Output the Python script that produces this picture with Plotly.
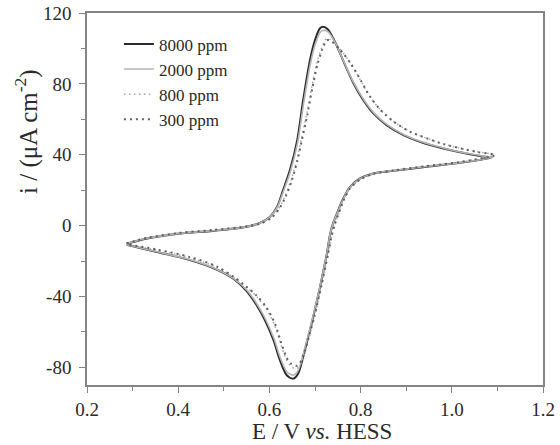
import plotly.graph_objects as go

# ---- data (E in V, i in uA cm^-2), loop: forward then return ----
E_8000 = [0.287, 0.332, 0.404, 0.476, 0.551, 0.579, 0.601, 0.617, 0.630, 0.645, 0.661, 0.674,
          0.689, 0.700, 0.711, 0.718, 0.728, 0.740, 0.755, 0.770, 0.784, 0.806, 0.828, 0.857,
          0.894, 0.930, 0.967, 1.003, 1.040, 1.070, 1.088,
          1.018, 0.945, 0.872, 0.828, 0.799, 0.777, 0.762, 0.748, 0.740, 0.733, 0.726, 0.711,
          0.696, 0.685, 0.674, 0.663, 0.652, 0.638, 0.623, 0.609, 0.590, 0.572, 0.550, 0.521,
          0.484, 0.426, 0.353, 0.287]
i_8000 = [-10.3, -7.3, -4.5, -3.0, -0.7, 1.5, 4.9, 10.6, 20.0, 31.3, 48.2, 70.8,
          93.4, 104.7, 111.4, 112.3, 110.8, 105.7, 97.2, 88.3, 80.5, 70.8, 63.3, 56.7,
          51.1, 47.3, 44.5, 42.2, 40.3, 39.0, 38.4,
          35.4, 33.2, 30.9, 29.4, 26.6, 21.9, 15.3, 6.8, 1.5, -5.0, -15.8, -34.6,
          -51.6, -62.9, -74.2, -83.6, -86.4, -84.5, -76.0, -64.7, -53.4, -45.0, -37.0, -30.0,
          -24.8, -19.5, -14.9, -10.8]

E_2000 = [0.287, 0.332, 0.404, 0.476, 0.551, 0.579, 0.601, 0.617, 0.631, 0.646, 0.662, 0.675,
          0.690, 0.701, 0.712, 0.719, 0.729, 0.741, 0.756, 0.771, 0.785, 0.807, 0.829, 0.858,
          0.894, 0.930, 0.967, 1.003, 1.040, 1.070, 1.090,
          1.018, 0.945, 0.872, 0.828, 0.799, 0.777, 0.762, 0.748, 0.740, 0.733, 0.726, 0.711,
          0.696, 0.685, 0.674, 0.663, 0.653, 0.639, 0.624, 0.610, 0.591, 0.573, 0.551, 0.521,
          0.484, 0.426, 0.353, 0.287]
i_2000 = [-10.2, -7.2, -4.4, -2.9, -0.6, 1.5, 4.8, 10.2, 19.5, 30.5, 47.0, 69.0,
          91.5, 102.8, 109.3, 110.3, 109.3, 104.8, 96.8, 88.0, 80.5, 71.0, 63.6, 57.0,
          51.4, 47.6, 44.8, 42.4, 40.5, 39.2, 38.6,
          35.5, 33.3, 31.0, 29.4, 26.5, 21.7, 15.0, 6.6, 1.4, -5.0, -15.8, -34.3,
          -51.0, -62.0, -72.8, -81.8, -84.4, -82.8, -74.8, -63.8, -52.6, -44.4, -36.6, -29.8,
          -24.6, -19.3, -14.8, -10.8]

E_800 = [0.287, 0.332, 0.404, 0.476, 0.551, 0.580, 0.603, 0.620, 0.635, 0.648, 0.660, 0.670,
         0.682, 0.693, 0.704, 0.715, 0.725, 0.734, 0.755, 0.777, 0.799, 0.820, 0.843, 0.872,
         0.908, 0.945, 0.981, 1.018, 1.054, 1.093,
         1.018, 0.945, 0.872, 0.828, 0.799, 0.777, 0.764, 0.752, 0.744, 0.737, 0.729, 0.714,
         0.699, 0.688, 0.677, 0.667, 0.658, 0.646, 0.636, 0.624, 0.611, 0.592, 0.572, 0.550,
         0.521, 0.484, 0.426, 0.353, 0.287]
i_800 = [-10.1, -7.0, -4.2, -2.6, -0.5, 1.2, 4.3, 9.5, 17.0, 26.0, 37.0, 49.0,
         63.3, 78.4, 91.6, 100.5, 105.5, 105.0, 99.6, 92.0, 82.4, 73.0, 65.5, 58.8,
         53.1, 49.3, 46.1, 43.7, 41.7, 39.9,
         35.8, 33.5, 31.0, 29.2, 26.0, 21.0, 15.0, 6.8, 1.0, -5.5, -16.0, -34.6,
         -51.6, -62.5, -72.5, -79.0, -80.8, -79.2, -75.0, -66.0, -56.0, -46.5, -40.0, -35.0,
         -29.2, -23.5, -18.2, -13.8, -10.6]

E_300 = [0.287, 0.332, 0.404, 0.476, 0.551, 0.581, 0.604, 0.621, 0.636, 0.649, 0.661, 0.671,
         0.683, 0.694, 0.705, 0.716, 0.726, 0.735, 0.756, 0.778, 0.800, 0.821, 0.844, 0.873,
         0.909, 0.946, 0.982, 1.019, 1.055, 1.095,
         1.018, 0.945, 0.872, 0.828, 0.799, 0.777, 0.764, 0.752, 0.744, 0.737, 0.729, 0.714,
         0.699, 0.688, 0.677, 0.667, 0.659, 0.647, 0.637, 0.625, 0.612, 0.593, 0.572, 0.550,
         0.521, 0.484, 0.426, 0.353, 0.287]
i_300 = [-10.0, -6.9, -4.1, -2.5, -0.4, 1.2, 4.2, 9.3, 16.6, 25.4, 36.2, 48.0,
         62.3, 77.4, 90.6, 99.6, 104.6, 104.2, 99.0, 91.6, 82.1, 72.7, 65.2, 58.6,
         52.9, 49.2, 46.0, 43.6, 41.6, 39.8,
         35.9, 33.6, 31.1, 29.2, 26.0, 21.0, 15.0, 6.9, 1.2, -5.3, -15.6, -34.0,
         -50.8, -61.5, -71.2, -77.5, -79.2, -77.9, -74.2, -65.5, -55.2, -46.0, -39.6, -34.6,
         -28.8, -23.0, -17.8, -13.5, -10.5]

series_names = ["8000 ppm", "2000 ppm", "800 ppm", "300 ppm"]
x_ticks = [0.2, 0.4, 0.6, 0.8, 1.0, 1.2]
x_ticklabels = ["0.2", "0.4", "0.6", "0.8", "1.0", "1.2"]
y_ticks = [-80, -40, 0, 40, 80, 120]
y_ticklabels = ["-80", "-40", "0", "40", "80", "120"]
y_minor = [-60, -20, 20, 60, 100]
x_minor = [0.3, 0.5, 0.7, 0.9, 1.1]
x_title = "E / V <i>vs.</i> HESS"
y_title = "i / (μA cm<sup>-2</sup>)"

FONT = "Liberation Serif"
TXT = "#2a2a2a"

fig = go.Figure()
styles = [
    dict(color="#2b2b2b", width=2.0, dash="solid"),
    dict(color="#b4b4b4", width=1.6, dash="solid"),
    dict(color="#a8a8a8", width=1.5, dash="1.5px,3.5px"),
    dict(color="#606060", width=2.0, dash="2px,4px"),
]
data = [(E_8000, i_8000), (E_2000, i_2000), (E_800, i_800), (E_300, i_300)]
for k in range(4):
    ex, iy = data[k]
    fig.add_trace(go.Scatter(
        x=ex, y=iy, mode="lines", name=series_names[k],
        line=dict(shape="spline", smoothing=0.8, **styles[k]),
    ))

axis_common = dict(
    showgrid=False, zeroline=False, showline=True, linecolor="#858585", linewidth=1.6,
    mirror=True, ticks="outside", ticklen=6, tickwidth=1.3, tickcolor="#858585",
    tickfont=dict(family=FONT, size=19, color=TXT), automargin=False,
)

fig.update_xaxes(
    range=[0.2, 1.2], tickvals=x_ticks, ticktext=x_ticklabels,
    minor=dict(tickvals=x_minor, ticks="outside", ticklen=4, tickcolor="#858585", tickwidth=1.2),
    **axis_common,
)
fig.update_yaxes(
    range=[-90, 120], tickvals=y_ticks, ticktext=y_ticklabels,
    minor=dict(tickvals=y_minor, ticks="outside", ticklen=4, tickcolor="#858585", tickwidth=1.2),
    ticklabelstandoff=4,
    **axis_common,
)

fig.add_annotation(text=x_title, xref="paper", yref="paper", x=0.515, y=-0.124,
                   xanchor="center", yanchor="middle", showarrow=False,
                   font=dict(family=FONT, size=23, color=TXT))
fig.add_annotation(text=y_title, xref="paper", yref="paper", x=-0.1316, y=0.683,
                   xanchor="center", yanchor="middle", showarrow=False, textangle=-90,
                   font=dict(family=FONT, size=25, color=TXT))

fig.update_layout(
    width=560, height=445,
    margin=dict(l=87, r=17, t=13, b=60, autoexpand=False),
    paper_bgcolor="white", plot_bgcolor="white",
    font=dict(family=FONT, color=TXT),
    showlegend=True,
    legend=dict(
        x=0.070, y=0.964, xanchor="left", yanchor="top",
        bgcolor="rgba(0,0,0,0)", borderwidth=0,
        font=dict(family=FONT, size=17, color=TXT),
        tracegroupgap=0, itemwidth=30,
    ),
)

fig.write_html("out.html")
